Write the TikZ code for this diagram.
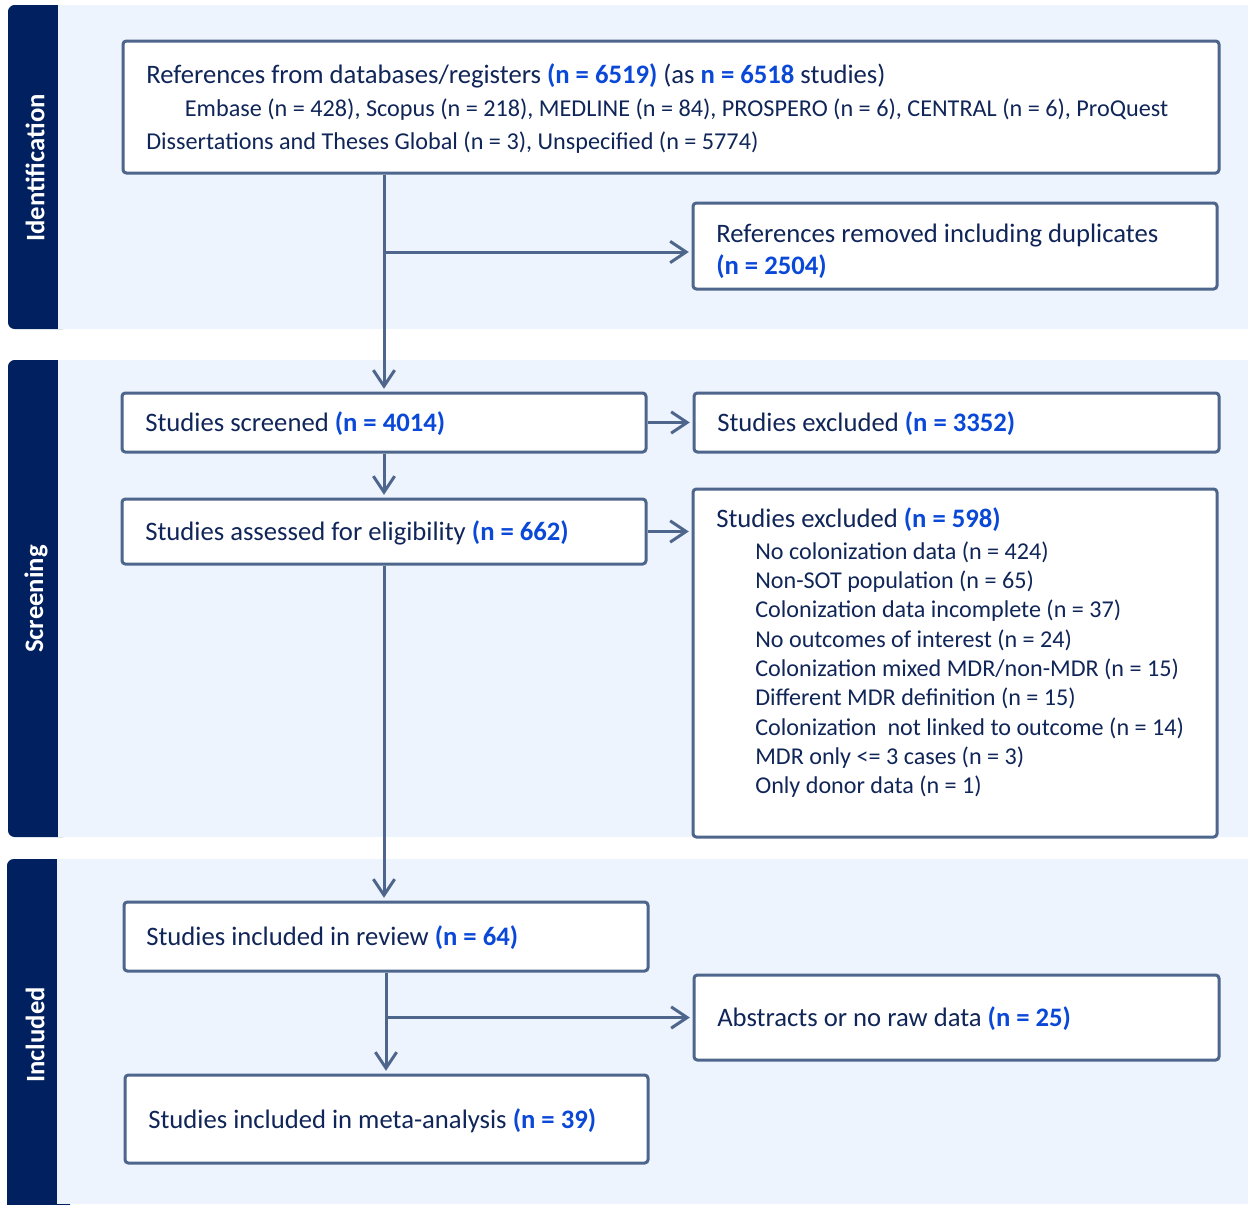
\documentclass[tikz,border=0pt]{standalone}
\usepackage{fontspec}
\setmainfont{Carlito}
\usetikzlibrary{arrows.meta}
\definecolor{navy}{RGB}{0,32,96}
\definecolor{bandbg}{RGB}{237,244,254}
\definecolor{edge}{RGB}{78,102,140}
\definecolor{ink}{RGB}{16,37,88}
\definecolor{hiblue}{RGB}{10,72,215}
\newcommand\hl[1]{\textcolor{hiblue}{\textbf{#1}}}
\tikzset{
  box/.style={draw=edge, line width=2.25pt, fill=white, rounded corners=2.5pt, inner sep=0pt},
  txt/.style={text=ink, font=\fontsize{20}{24.75}\selectfont, inner sep=0pt, anchor=west, align=left},
  arr/.style={draw=edge, line width=2.25pt, -{Straight Barb[length=12pt,width=16pt,line width=2.25pt]}, shorten >=2pt},
  bandlabel/.style={rotate=90, text=white, font=\bfseries\fontsize{20}{22}\selectfont, inner sep=0pt},
}
\begin{document}
\begin{tikzpicture}[x=0.75pt,y=-0.75pt]
\useasboundingbox (0,0) rectangle (1248,1204);
% bands
\fill[navy, rounded corners=5pt] (8,5) rectangle (70,329);
\fill[bandbg] (58,5) rectangle (1248,329);
\fill[navy, rounded corners=5pt] (8,360) rectangle (70,837);
\fill[bandbg] (58,360) rectangle (1248,837);
\fill[navy, rounded corners=5pt] (7,859) rectangle (70,1230);
\fill[bandbg] (57,859) rectangle (1248,1204);
\fill[navy] (7,1180) rectangle (57,1204);
\node[bandlabel] (lid) at (35,168) {Identification};
\node[bandlabel] (lsc) at (36,599) {Screening};
\node[bandlabel] (lin) at (35,1035) {Included};
% boxes
\node[box, minimum width=822pt, minimum height=99pt] (b1) at (671,107) {};
\node[box, minimum width=393pt, minimum height=64.5pt] (rem) at (955,246) {};
\node[box, minimum width=393pt, minimum height=44.25pt] (scr) at (384,422.5) {};
\node[box, minimum width=393.75pt, minimum height=44.25pt] (ex1) at (956.5,422.5) {};
\node[box, minimum width=393pt, minimum height=48.75pt] (ass) at (384,531.5) {};
\node[box, minimum width=393pt, minimum height=261pt] (ex2) at (955,663) {};
\node[box, minimum width=393pt, minimum height=51.75pt] (rev) at (386,936.5) {};
\node[box, minimum width=393.75pt, minimum height=63.75pt] (abs) at (956.5,1017.5) {};
\node[box, minimum width=392.25pt, minimum height=66pt] (met) at (386.5,1119) {};
% texts
\node[txt, font=\fontsize{18.15}{24.75}\selectfont] (t1) at (146,109) {{\fontsize{20}{24.75}\selectfont References from databases/registers \hl{(n = 6519)} (as \hl{n = 6518} studies)}\\
\hspace*{29pt}Embase (n = 428), Scopus (n = 218), MEDLINE (n = 84), PROSPERO (n = 6), CENTRAL (n = 6), ProQuest\\
Dissertations and Theses Global (n = 3), Unspecified (n = 5774)};
\node[txt, font=\fontsize{20}{24}\selectfont] (t2) at (716,251) {References removed including duplicates\\\hl{(n = 2504)}};
\node[txt] (t3) at (145,424) {Studies screened \hl{(n = 4014)}};
\node[txt] (t4) at (717,424) {Studies excluded \hl{(n = 3352)}};
\node[txt] (t5) at (145,533) {Studies assessed for eligibility \hl{(n = 662)}};
\node[txt] (t6) at (716,520) {Studies excluded \hl{(n = 598)}};
\node[txt, font=\fontsize{18.1}{22}\selectfont] (t7) at (755,669.5) {No colonization data (n = 424)\\
Non-SOT population (n = 65)\\
Colonization data incomplete (n = 37)\\
No outcomes of interest (n = 24)\\
Colonization mixed MDR/non-MDR (n = 15)\\
Different MDR definition (n = 15)\\
Colonization~ not linked to outcome (n = 14)\\
MDR only <= 3 cases (n = 3)\\
Only donor data (n = 1)};
\node[txt] (t8) at (146,938) {Studies included in review \hl{(n = 64)}};
\node[txt] (t9) at (717,1019) {Abstracts or no raw data \hl{(n = 25)}};
\node[txt] (t10) at (148,1121) {Studies included in meta-analysis \hl{(n = 39)}};
% arrows
\draw[arr] (b1.south -| scr.north) -- (scr.north);
\draw[arr] ([yshift=-4.5pt]rem.west -| scr.north) -- ([yshift=-4.5pt]rem.west);
\draw[arr] (scr.east) -- (ex1.west);
\draw[arr] (scr.south) -- (ass.north);
\draw[arr] (ass.east) -- (ass.east -| ex2.west);
\draw[arr] (ass.south) -- (ass.south |- rev.north);
\draw[arr] (rev.south) -- (rev.south |- met.north);
\draw[arr] (abs.west -| rev.south) -- (abs.west);
\end{tikzpicture}
\end{document}
